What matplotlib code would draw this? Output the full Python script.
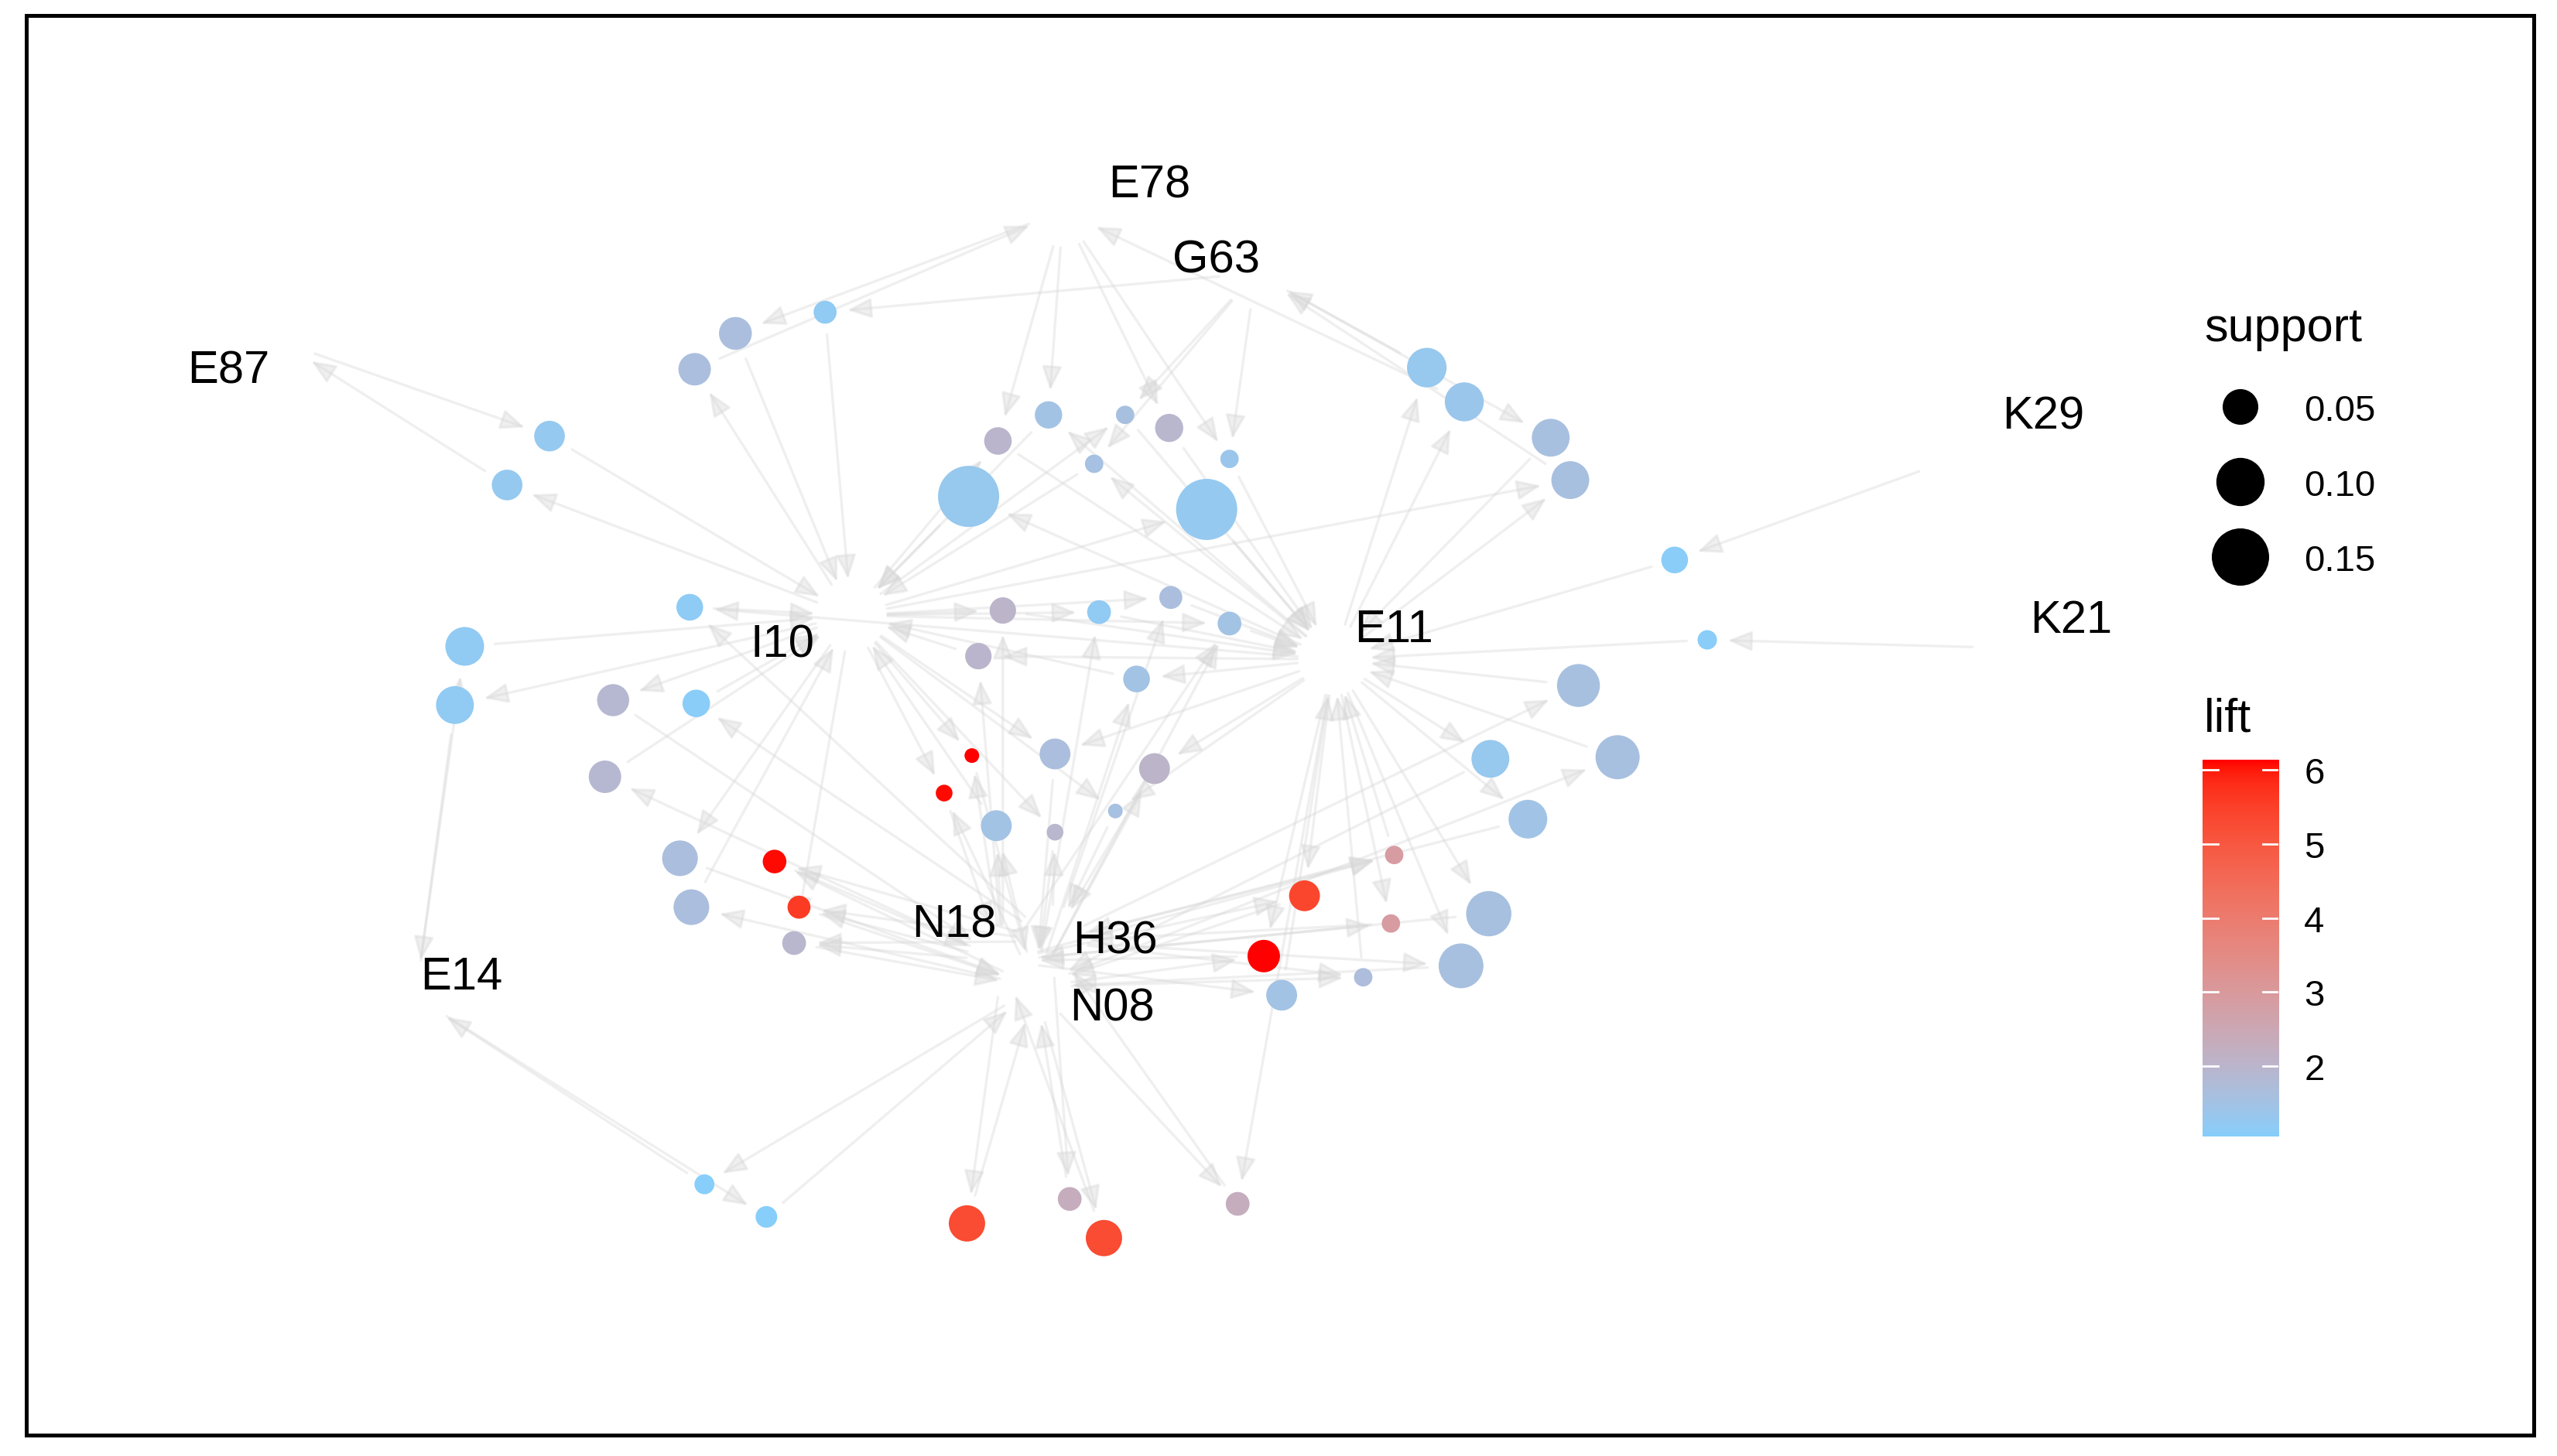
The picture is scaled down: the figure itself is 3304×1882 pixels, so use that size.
import numpy as np
import matplotlib
matplotlib.use("Agg")
import matplotlib.pyplot as plt
from matplotlib.patches import FancyArrowPatch, Rectangle
from matplotlib.colors import ListedColormap, Normalize, to_rgb

plt.rcParams['font.family'] = ['Liberation Sans', 'DejaVu Sans']

W, H, DPI = 3304, 1883, 200
S = 2.107          # layout units -> pixels
PT = 72 / DPI      # pixels -> points

# ---- item nodes: graph layout position and label position ----
items = ["E78", "G63", "E87", "K29", "I10", "E11", "K21", "N18", "H36", "N08", "E14"]
item_x = [652, 770, 172, 1198, 522, 818, 1232, 615, 645, 635, 255]
item_y = [130, 168, 210, 282, 378, 405, 398, 590, 578, 606, 612]
label_x = [705, 746, 140, 1253, 480, 855, 1270, 585, 684, 682, 283]
label_y = [111, 157, 225, 253, 393, 384, 378, 565, 575, 616, 597]

# ---- rule nodes ----
rule_x = [506, 451, 426, 337, 311, 643, 690, 612, 717, 671,
          754, 594, 740, 875, 898, 951, 963, 1027, 1047, 423,
          285, 279, 427, 376, 371, 615, 674, 718, 754, 600,
          697, 968, 992, 914, 937, 596, 579, 647, 708, 684,
          611, 647, 475, 490, 487, 417, 424, 800, 775, 786,
          836, 855, 853, 913, 896, 432, 470, 593, 677, 656, 759]
rule_y = [192, 205, 227, 268, 298, 255, 255, 271, 263, 285,
          282, 305, 313, 226, 247, 269, 295, 344, 393, 373,
          397, 433, 432, 430, 477, 375, 376, 367, 383, 403,
          417, 421, 465, 466, 503, 464, 487, 463, 472, 498,
          507, 511, 529, 557, 579, 527, 557, 550, 587, 611,
          600, 525, 567, 561, 593, 727, 747, 751, 760, 736, 739]
support = [0.023, 0.042, 0.041, 0.0365, 0.0365, 0.0296, 0.019, 0.030, 0.0312, 0.019,
           0.019, 0.175, 0.175, 0.063, 0.061, 0.057, 0.057, 0.0285, 0.0196, 0.0285,
           0.060, 0.057, 0.030, 0.040, 0.041, 0.028, 0.024, 0.023, 0.024, 0.028,
           0.0285, 0.076, 0.081, 0.057, 0.060, 0.018, 0.0183, 0.037, 0.037, 0.018,
           0.037, 0.0183, 0.0238, 0.023, 0.024, 0.050, 0.050, 0.037, 0.041, 0.037,
           0.019, 0.019, 0.019, 0.086, 0.084, 0.020, 0.0215, 0.052, 0.052, 0.024, 0.024]
lift = [1.2, 1.65, 1.65, 1.25, 1.25, 1.5, 1.6, 2.0, 1.95, 1.55,
        1.35, 1.3, 1.25, 1.3, 1.35, 1.6, 1.6, 1.1, 1.1, 1.15,
        1.2, 1.2, 1.1, 1.9, 1.9, 2.05, 1.2, 1.65, 1.5, 2.0,
        1.5, 1.6, 1.6, 1.3, 1.45, 6.14, 6.1, 1.65, 2.05, 1.55,
        1.5, 1.95, 6.1, 5.6, 1.95, 1.65, 1.65, 5.4, 6.14, 1.5,
        1.7, 2.9, 2.9, 1.6, 1.6, 1.05, 1.05, 5.3, 5.3, 2.3, 2.3]
lhs = ["G63", "E78", "I10", "E87", "I10", "E78+E11", "G63+I10", "E78+I10", "E78", "G63+E11",
       "G63+E78", "E11", "I10", "E11", "E11", "G63", "E11+I10", "K29", "K21", "E11+H36",
       "E14", "I10", "H36", "I10", "N18", "N18+I10", "N08+I10", "H36+I10", "I10+N08+N18", "E11+N18",
       "E11+N08", "H36", "N08", "E11", "E11", "I10+N18", "I10+N08", "I10+E11", "E11+N08", "I10+E11",
       "N18+N08", "I10+H36", "H36+N08", "N18+H36", "I10+H36+N18", "I10", "N08", "N18+E11", "N08+E11", "N18",
       "H36+N08", "N18+H36", "E11+N18", "E11", "E11+H36", "N08", "E14", "N18", "N08", "H36", "N08+E11"]
rhs = ["I10", "I10", "E78", "I10", "E87", "I10", "E11", "E11", "E11", "I10",
       "E11", "I10", "E11", "G63", "E78", "E11", "G63", "E11", "E11", "I10",
       "I10", "E14", "I10", "N18", "I10", "E11", "E11", "E11", "E11", "I10",
       "I10", "E11", "E11", "N08", "H36", "N08", "N18", "N08", "H36", "H36",
       "I10", "N08", "N18", "N08", "N08", "N08", "I10", "N08", "N18", "E11",
       "E11", "E11", "H36", "N18", "N08", "E14", "N08", "N08", "N18", "N08", "H36"]

support_breaks = [0.05, 0.10, 0.15]
lift_ticks = [2, 3, 4, 5, 6]

# ---- colour scale: lightskyblue -> red, interpolated in Lab like ggplot ----
M = np.array([[0.4124, 0.3576, 0.1805], [0.2126, 0.7152, 0.0722], [0.0193, 0.1192, 0.9505]])
WHITE = np.array([0.95047, 1.0, 1.08883])


def to_lab(c):
    rgb = np.array(to_rgb(c))
    lin = np.where(rgb <= 0.04045, rgb / 12.92, ((rgb + 0.055) / 1.055) ** 2.4)
    xyz = M @ lin / WHITE
    f = np.where(xyz > 0.008856, np.cbrt(xyz), 7.787 * xyz + 16 / 116)
    return np.array([116 * f[1] - 16, 500 * (f[0] - f[1]), 200 * (f[1] - f[2])])


def from_lab(lab):
    fy = (lab[:, 0] + 16) / 116
    f = np.stack([fy + lab[:, 1] / 500, fy, fy - lab[:, 2] / 200], axis=1)
    xyz = np.where(f > 0.206893, f ** 3, (f - 16 / 116) / 7.787) * WHITE
    lin = np.clip(xyz @ np.linalg.inv(M).T, 0, None)
    rgb = np.where(lin <= 0.0031308, 12.92 * lin, 1.055 * lin ** (1 / 2.4) - 0.055)
    return np.clip(rgb, 0, 1)


t = np.linspace(0, 1, 256)[:, None]
lo, hi = to_lab("#87CEFA"), to_lab("#FF0000")
cmap = ListedColormap(from_lab(lo + t * (hi - lo)))
norm = Normalize(min(lift), max(lift))

smin, smax = min(support), max(support)


def node_diam(s):
    # pixel diameter, area-style scale like scale_size()
    return 19 + 60 * np.sqrt((s - smin) / (smax - smin))


fig = plt.figure(figsize=(W / DPI, H / DPI), dpi=DPI)
fig.patch.set_facecolor("white")
ax = fig.add_axes([0, 0, 1, 1])
ax.axis("off")

pos = {n: (x, y) for n, x, y in zip(items, item_x, item_y)}
item_cap = 17.0  # points

# edges
for i in range(len(rule_x)):
    rp = (rule_x[i], rule_y[i])
    rcap = (node_diam(support[i]) / 2 + 14) * PT
    edges = [(pos[a], rp, item_cap, rcap) for a in lhs[i].split("+")]
    edges.append((rp, pos[rhs[i]], rcap, item_cap))
    for p, q, sa, sb in edges:
        ax.add_patch(FancyArrowPatch(p, q, arrowstyle="-|>,head_length=0.95,head_width=0.4",
                                     mutation_scale=10, shrinkA=sa, shrinkB=sb,
                                     color="#d8d8d8", alpha=0.4, lw=1.2, zorder=1))

# rule nodes
d = np.array([node_diam(s) for s in support])
ax.scatter(rule_x, rule_y, s=(d * PT) ** 2, c=lift, cmap=cmap, norm=norm,
           linewidths=0, zorder=2)

# item labels
cap = 0.716 * 21.5 / PT / S
for n, x, y in zip(items, label_x, label_y):
    ax.text(x, y + cap / 2, n, fontsize=21.5, ha="center", va="baseline", zorder=3)

ax.set_xlim(0, W / S)
ax.set_ylim(H / S, 0)

# ---- legends, drawn in pixel space ----
pix = fig.add_axes([0, 0, 1, 1])
pix.set_xlim(0, W)
pix.set_ylim(H, 0)
pix.axis("off")

pix.text(2848, 441, "support", fontsize=22, ha="left", va="baseline")
leg_y = [527, 624, 721]
pix.scatter([2895] * 3, leg_y, s=(np.array([node_diam(b) for b in support_breaks]) * PT) ** 2,
            color="black", linewidths=0)
for b, yy in zip(support_breaks, leg_y):
    pix.text(2977, yy + 16.5, f"{b:.2f}", fontsize=17, ha="left", va="baseline")

pix.text(2848, 945, "lift", fontsize=22, ha="left", va="baseline")
cb_x0, cb_x1, cb_y0, cb_y1 = 2846, 2944, 983, 1470
cax = fig.add_axes([cb_x0 / W, 1 - cb_y1 / H, (cb_x1 - cb_x0) / W, (cb_y1 - cb_y0) / H])
grad = np.linspace(norm.vmin, norm.vmax, 256)[:, None]
cax.imshow(grad, aspect="auto", cmap=cmap, norm=norm, origin="lower",
           extent=[0, 1, norm.vmin, norm.vmax])
for tk in lift_ticks:
    cax.plot([0, 0.2], [tk, tk], color="white", lw=1.0)
    cax.plot([0.8, 1], [tk, tk], color="white", lw=1.0)
cax.set_xlim(0, 1)
cax.set_ylim(norm.vmin, norm.vmax)
cax.set_xticks([])
cax.set_yticks(lift_ticks)
cax.yaxis.tick_right()
cax.tick_params(axis="y", length=0, labelsize=17, pad=12)
for sp in cax.spines.values():
    sp.set_visible(False)

# outer frame
pix.add_patch(Rectangle((34, 21), 3274 - 34, 1856 - 21, fill=False, edgecolor="black", lw=1.8))

fig.savefig("out.png", dpi=DPI, facecolor="white")
